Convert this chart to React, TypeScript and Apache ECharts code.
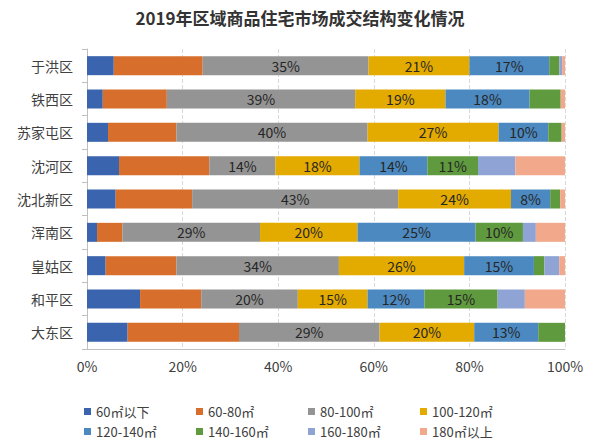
import React, { useEffect, useRef } from "react";
import * as echarts from "echarts";

const title = "2019年区域商品住宅市场成交结构变化情况";
const categories = ["于洪区", "铁西区", "苏家屯区", "沈河区", "沈北新区", "浑南区", "皇姑区", "和平区", "大东区"];
const seriesNames = ["60㎡以下", "60-80㎡", "80-100㎡", "100-120㎡", "120-140㎡", "140-160㎡", "160-180㎡", "180㎡以上"];
const s60 = [5.6, 3.3, 4.4, 6.7, 6.0, 2.1, 3.9, 11.1, 8.5];
const s60_80 = [18.6, 13.4, 14.3, 18.9, 16.0, 5.3, 14.8, 12.8, 23.3];
const s80_100 = [34.7, 39.4, 40.0, 13.8, 43.1, 28.8, 34.0, 20.2, 29.4];
const s100_120 = [21.1, 18.9, 27.4, 17.6, 23.6, 20.4, 26.2, 14.6, 19.8];
const s120_140 = [16.7, 17.6, 10.4, 14.2, 8.2, 24.7, 14.6, 11.9, 13.4];
const s140_160 = [2.1, 6.5, 2.8, 10.6, 2.1, 9.9, 2.2, 15.3, 5.6];
const s160_180 = [0.6, 0, 0, 7.8, 0, 2.7, 3.1, 5.7, 0];
const s180 = [0.6, 0.9, 0.7, 10.4, 1.0, 6.1, 1.2, 8.4, 0];
const xTicks = [0, 20, 40, 60, 80, 100];

const allData = [s60, s60_80, s80_100, s100_120, s120_140, s140_160, s160_180, s180];
const colors = ["#3B64AE", "#D76E2B", "#949494", "#E3AA00", "#4C89C0", "#5F9A3E", "#8FA3D5", "#F1A88B"];
const labeled = [false, false, true, true, true, true, false, false];

const FONT = "Noto Sans CJK SC";

export default function App() {
  const ref = useRef<HTMLDivElement>(null);
  useEffect(() => {
    if (!ref.current) return;
    const chart = echarts.init(ref.current, null, { renderer: "svg" });
    chart.setOption({
      animation: false,
      textStyle: { fontFamily: FONT },
      title: {
        text: title,
        left: "center",
        top: 4,
        textStyle: { fontFamily: FONT, fontSize: 17, fontWeight: "bold", color: "#333333" },
      },
      grid: { left: 87, right: 35, top: 49, bottom: 95, containLabel: false },
      xAxis: {
        type: "value",
        min: 0,
        max: 100,
        interval: 20,
        axisLabel: {
          formatter: (v: number) => (xTicks.includes(v) ? v + "%" : ""),
          fontSize: 14,
          color: "#404040",
          margin: 10,
        },
        axisLine: { show: true, lineStyle: { color: "#BFBFBF" } },
        axisTick: { show: false },
        splitLine: { show: true, lineStyle: { color: "#D9D9D9", type: "dashed" } },
      },
      yAxis: {
        type: "category",
        data: categories,
        inverse: true,
        axisLabel: { fontSize: 14, color: "#404040", margin: 14 },
        axisLine: { show: true, lineStyle: { color: "#BFBFBF" } },
        axisTick: { show: true, length: 5, lineStyle: { color: "#BFBFBF" } },
      },
      legend: {
        data: seriesNames,
        left: 79,
        top: 399,
        width: 470,
        orient: "horizontal",
        icon: "rect",
        itemWidth: 7,
        itemHeight: 7,
        itemGap: 5,
        textStyle: { fontSize: 13, color: "#404040", width: 95, lineHeight: 15, fontFamily: FONT },
      },
      series: allData.map((d, i) => ({
        name: seriesNames[i],
        type: "bar",
        stack: "total",
        data: d,
        barWidth: "57%",
        itemStyle: { color: colors[i] },
        label: {
          show: labeled[i],
          position: "inside",
          fontSize: 14,
          color: "#262626",
          fontFamily: FONT,
          formatter: (p: any) => (p.value >= 8 ? Math.round(p.value) + "%" : ""),
        },
      })),
    });
    return () => chart.dispose();
  }, []);
  return <div ref={ref} style={{ width: 600, height: 444, position: "absolute", left: 0, top: 0, background: "#fff" }} />;
}
